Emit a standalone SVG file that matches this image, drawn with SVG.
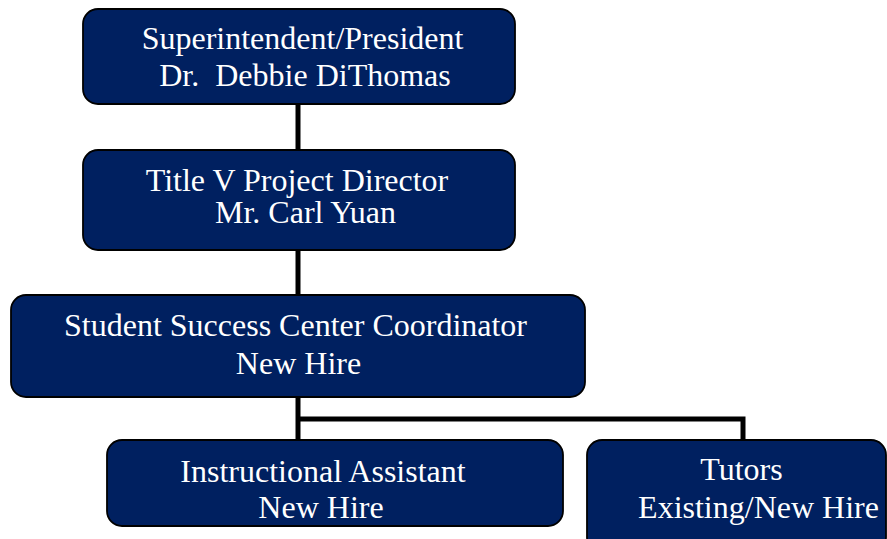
<svg xmlns="http://www.w3.org/2000/svg" width="887" height="539" viewBox="0 0 887 539">
  <style>
    .box { fill: #002060; stroke: #000000; stroke-width: 1.8; }
    .lbl { font-family: "Liberation Serif", "Times New Roman", serif; font-size: 32px; fill: #ffffff; text-anchor: middle; }
    .wire { fill: none; stroke: #000000; stroke-width: 5; stroke-linejoin: miter; stroke-linecap: butt; }
  </style>
  <rect width="887" height="539" fill="#ffffff"/>

  <!-- reporting lines -->
  <g id="connectors">
    <line class="wire" x1="298" y1="104" x2="298" y2="150"/>
    <line class="wire" x1="298" y1="250" x2="298" y2="295"/>
    <line class="wire" x1="298" y1="397" x2="298" y2="440"/>
    <polyline class="wire" points="298,419 743,419 743,440"/>
  </g>

  <g id="superintendent">
    <rect class="box" x="83" y="9" width="432" height="95" rx="15" ry="15"/>
    <text class="lbl" x="302.5" y="49">Superintendent/President</text>
    <text class="lbl" x="305" y="86" xml:space="preserve">Dr.  Debbie DiThomas</text>
  </g>

  <g id="project-director">
    <rect class="box" x="83" y="150" width="432" height="100" rx="15" ry="15"/>
    <text class="lbl" x="297" y="190.5">Title V Project Director</text>
    <text class="lbl" x="305.5" y="223">Mr. Carl Yuan</text>
  </g>

  <g id="ssc-coordinator">
    <rect class="box" x="11" y="295" width="574" height="102" rx="15" ry="15"/>
    <text class="lbl" x="295.5" y="336">Student Success Center Coordinator</text>
    <text class="lbl" x="298.5" y="374">New Hire</text>
  </g>

  <g id="instructional-assistant">
    <rect class="box" x="107" y="440" width="456" height="86" rx="15" ry="15"/>
    <text class="lbl" x="323" y="482">Instructional Assistant</text>
    <text class="lbl" x="321" y="518">New Hire</text>
  </g>

  <g id="tutors">
    <rect class="box" x="587" y="440" width="299" height="112" rx="15" ry="15"/>
    <text class="lbl" x="741.5" y="480">Tutors</text>
    <text class="lbl" x="758.5" y="518">Existing/New Hire</text>
  </g>
</svg>
